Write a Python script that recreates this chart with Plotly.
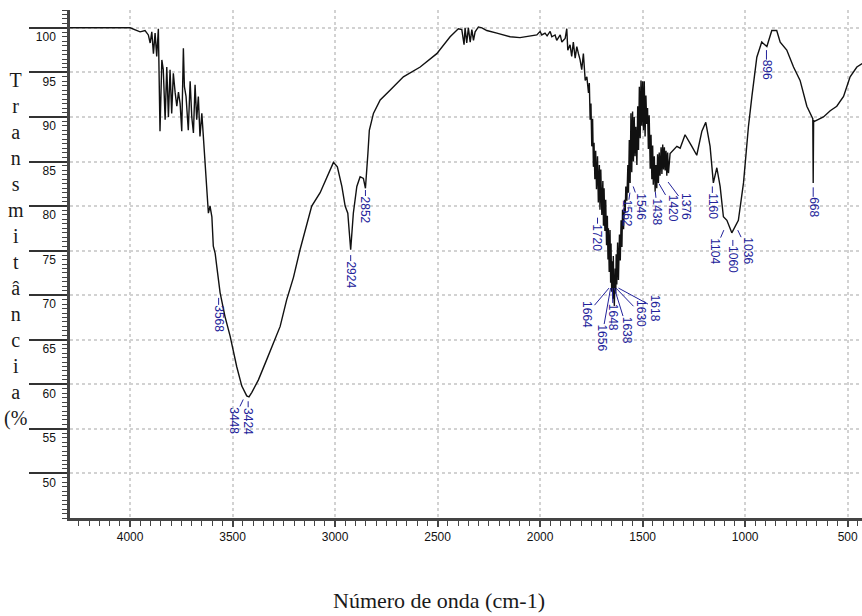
import plotly.graph_objects as go

# ---- data ----
wavenumber = [4293, 4150, 4000, 3951, 3927, 3911, 3902, 3894, 3886, 3878, 3870, 3862, 3854, 3845, 3838,
              3829, 3821, 3813, 3805, 3797, 3789, 3780, 3772, 3764, 3756, 3748, 3743, 3740, 3735, 3727,
              3716, 3707, 3699, 3691, 3683, 3675, 3667, 3659, 3650, 3642, 3638, 3634, 3626, 3618, 3610,
              3601, 3594, 3585, 3577, 3569, 3561, 3537, 3512, 3480, 3455, 3431, 3420, 3406, 3374, 3333,
              3301, 3268, 3236, 3203, 3171, 3114, 3073, 3040, 3008, 2989, 2967, 2951, 2938, 2924, 2911,
              2894, 2878, 2862, 2852, 2840, 2833, 2813, 2780, 2732, 2667, 2585, 2504, 2439, 2399, 2382,
              2371, 2366, 2358, 2350, 2341, 2333, 2325, 2317, 2301, 2284, 2260, 2211, 2146, 2098, 2049,
              2016, 2000, 1992, 1976, 1966, 1951, 1943, 1927, 1919, 1902, 1894, 1878, 1870, 1865, 1854,
              1846, 1838, 1829, 1821, 1813, 1805, 1797, 1789, 1780, 1772, 1764, 1760, 1756, 1752, 1748,
              1744, 1740, 1737, 1733, 1729, 1725, 1720, 1716, 1711, 1708, 1704, 1699, 1694, 1691, 1688,
              1684, 1680, 1676, 1672, 1669, 1667, 1663, 1659, 1656, 1654, 1651, 1648, 1645, 1643, 1640,
              1638, 1634, 1631, 1629, 1626, 1622, 1618, 1613, 1609, 1605, 1601, 1598, 1593, 1588, 1585,
              1582, 1577, 1572, 1569, 1565, 1561, 1557, 1553, 1549, 1545, 1541, 1537, 1533, 1528, 1524,
              1520, 1516, 1512, 1508, 1504, 1500, 1496, 1492, 1488, 1484, 1480, 1476, 1472, 1468, 1463,
              1459, 1455, 1451, 1448, 1443, 1439, 1435, 1431, 1427, 1423, 1419, 1415, 1410, 1406, 1402,
              1398, 1394, 1390, 1386, 1382, 1378, 1374, 1366, 1350, 1333, 1317, 1293, 1260, 1236, 1211,
              1192, 1171, 1155, 1138, 1122, 1106, 1089, 1065, 1049, 1033, 1008, 984, 967, 943, 919,
              894, 870, 846, 829, 797, 764, 732, 699, 675, 670, 668, 666, 662, 618, 585,
              553, 520, 488, 455, 429]
transmittance = [100.0, 100.0, 100.0, 99.55, 99.7, 99.2, 98.3, 99.55, 97.1, 99.4, 96.8, 99.9, 88.4, 96.4, 95.3,
                 89.7, 95.6, 90.0, 95.3, 90.4, 94.9, 92.7, 91.2, 92.8, 91.5, 88.4, 94.9, 97.7, 93.4, 92.3,
                 88.5, 94.0, 90.0, 88.2, 93.6, 89.7, 92.3, 87.8, 90.4, 87.6, 85.9, 84.1, 81.1, 79.2, 80.0,
                 78.8, 75.5, 74.7, 73.2, 71.7, 70.3, 67.6, 65.4, 62.0, 59.8, 58.7, 58.6, 59.1, 60.5, 62.8,
                 64.6, 66.5, 69.5, 72.0, 75.1, 80.0, 81.5, 83.3, 84.9, 84.4, 82.2, 80.0, 79.2, 75.1, 79.2,
                 82.2, 83.3, 83.1, 82.0, 85.9, 88.5, 90.4, 91.9, 93.0, 94.5, 95.6, 97.1, 99.0, 99.9, 99.8,
                 98.1, 100.0, 98.3, 100.0, 98.4, 99.8, 98.6, 99.55, 100.1, 100.0, 99.7, 99.4, 99.0, 98.9, 99.1,
                 99.2, 99.6, 99.2, 99.4, 99.1, 99.6, 99.0, 99.2, 98.6, 99.2, 98.4, 98.8, 99.9, 97.5, 98.1,
                 96.8, 98.4, 96.6, 97.9, 97.1, 96.4, 95.3, 97.1, 94.1, 94.5, 92.7, 93.8, 89.7, 91.5, 86.7,
                 89.8, 84.4, 87.1, 83.0, 86.2, 81.9, 85.6, 80.4, 84.6, 79.6, 84.1, 79.0, 82.8, 77.8, 82.0,
                 77.2, 80.7, 75.6, 78.9, 74.0, 77.5, 72.6, 77.3, 71.4, 75.8, 70.4, 73.8, 69.6, 74.4, 69.9,
                 68.8, 73.0, 70.2, 74.6, 71.2, 75.9, 71.7, 76.8, 73.9, 78.4, 75.4, 79.6, 77.4, 80.7, 79.2,
                 82.2, 80.6, 84.6, 81.5, 87.4, 82.6, 90.4, 83.8, 90.6, 85.0, 90.0, 85.6, 88.9, 84.6, 91.2,
                 86.3, 93.4, 87.6, 94.1, 89.0, 94.0, 88.5, 94.0, 87.8, 92.4, 89.2, 91.0, 86.4, 90.2, 84.2,
                 88.0, 83.0, 86.8, 82.4, 85.6, 81.6, 84.6, 82.0, 85.8, 82.6, 86.0, 83.4, 86.6, 83.6, 86.9,
                 84.1, 86.6, 84.0, 86.2, 83.4, 86.0, 83.7, 85.9, 86.3, 86.7, 86.5, 88.0, 86.7, 85.7, 88.4,
                 89.4, 86.7, 82.6, 84.3, 82.2, 78.8, 78.4, 77.0, 77.7, 78.4, 82.6, 88.9, 92.3, 96.7, 98.4,
                 97.9, 99.7, 99.7, 98.4, 97.5, 95.6, 94.1, 91.2, 89.9, 89.8, 82.6, 89.6, 89.5, 90.0, 90.7,
                 91.2, 92.3, 94.5, 95.6, 96.0]

peak_wn = [3568, 3448, 3424, 2924, 2852, 1720, 1664, 1656, 1648, 1638, 1630, 1618,
           1562, 1546, 1438, 1420, 1376, 1160, 1104, 1060, 1036, 896, 668]
peak_anchor_T = [69.7, 58.3, 58.1, 74.5, 81.8, 78.7, 70.8, 70.8, 70.8, 70.8, 70.8, 70.8,
                 81.5, 82.2, 81.6, 82.5, 82.7, 82.2, 77.3, 76.2, 77.3, 97.5, 82.1]
# label placement (pixel offsets of the label from its anchor)
label_dx = [0, -10, 0, 0, 0, 0, -22, -9, 1, 13, 25, 37, -3, 7, 2, 14, 18, 0, -9, 0, 10, 0, 0]
label_lead = [7, 7, 6, 6, 6, 6, 12, 36, 15, 28, 12, 6, 7, 6, 6, 10, 10, 6, 7, 6, 7, 6, 6]

x_ticks = [4000, 3500, 3000, 2500, 2000, 1500, 1000, 500]
y_ticks = [50, 55, 60, 65, 70, 75, 80, 85, 90, 95, 100]
x_title = "Número de onda (cm-1)"
y_title_letters = ["T", "r", "a", "n", "s", "m", "i", "t", "â", "n", "c", "i", "a", "(%"]

fig = go.Figure()
fig.add_trace(go.Scatter(x=wavenumber, y=transmittance, mode="lines",
                         line=dict(color="#111111", width=1.4), showlegend=False,
                         hoverinfo="skip"))

label_color = "#22229a"
annotations = []
for wn, t, dx, lead in zip(peak_wn, peak_anchor_T, label_dx, label_lead):
    annotations.append(dict(
        x=wn, y=t, xref="x", yref="y", text=str(wn), textangle=90,
        showarrow=True, arrowhead=0, arrowwidth=1, arrowcolor=label_color,
        ax=dx, ay=lead + 14,
        font=dict(family="Liberation Sans, Arial", size=12, color=label_color),
        borderpad=0,
    ))

annotations.append(dict(
    x=-0.069, y=0.5285, xref="paper", yref="paper", showarrow=False,
    text="<br>".join(y_title_letters), align="center",
    font=dict(family="Liberation Serif, Times New Roman", size=20, color="#1a1a1a"),
    xanchor="center", yanchor="middle",
))
annotations.append(dict(
    x=0.466, y=-0.162, xref="paper", yref="paper", showarrow=False,
    text=x_title,
    font=dict(family="Liberation Serif, Times New Roman", size=22, color="#1a1a1a"),
    xanchor="center", yanchor="middle",
))

fig.update_layout(
    width=862, height=616,
    margin=dict(l=70, r=0, t=10, b=98),
    paper_bgcolor="white", plot_bgcolor="white",
    annotations=annotations,
    xaxis=dict(
        range=[4293, 430], tickmode="array", tickvals=x_ticks,
        ticktext=[str(v) for v in x_ticks],
        ticks="outside", ticklen=6, tickwidth=1.5, tickcolor="#444",
        showline=True, linecolor="#444", linewidth=2.5,
        showgrid=True, gridcolor="#d2d2d2", griddash="dot", gridwidth=1.5,
        zeroline=False,
        tickfont=dict(family="Liberation Sans, Arial", size=12, color="#111"),
        minor=dict(dtick=50, ticks="outside", ticklen=5, tickwidth=1.2, tickcolor="#444",
                   showgrid=False),
    ),
    yaxis=dict(
        range=[45, 102], tickmode="array", tickvals=y_ticks,
        ticktext=[str(v) for v in y_ticks],
        ticks="outside", ticklen=38, tickwidth=1.5, tickcolor="#333",
        showline=True, linecolor="#444", linewidth=2.5,
        showgrid=True, gridcolor="#d2d2d2", griddash="dot", gridwidth=1.5,
        zeroline=False,
        tickfont=dict(family="Liberation Sans, Arial", size=12, color="#111"),
        ticklabelshift=9, ticklabelstandoff=-29,
        minor=dict(dtick=0.5, ticks="outside", ticklen=5, tickwidth=1.2, tickcolor="#444",
                   showgrid=False),
    ),
)

fig.write_html("out.html")
